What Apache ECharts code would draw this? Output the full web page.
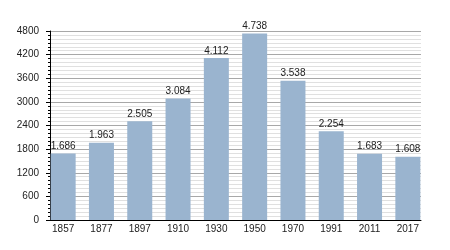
<!DOCTYPE html>
<html><head><meta charset="utf-8">
<script src="https://cdn.jsdelivr.net/npm/echarts@6/dist/echarts.min.js"></script>
<style>html,body{margin:0;padding:0;background:#fff}#c{width:450px;height:250px}</style>
</head><body><div id="c"></div>
<script>
const categories = ["1857","1877","1897","1910","1930","1950","1970","1991","2011","2017"];
const population = [1686,1963,2505,3084,4112,4738,3538,2254,1683,1608];
const yMin = 0, yMax = 4800, yStep = 600;

function fmt(v){ return String(v).replace(/\B(?=(\d{3})+(?!\d))/g, "."); }
const font = 'Liberation Sans, Arial, sans-serif';

const chart = echarts.init(document.getElementById('c'), null, {renderer:'canvas'});
chart.setOption({
  animation:false,
  grid:[
    {left:44,right:23,top:31,bottom:30},
    {left:50,right:29,top:31,bottom:30}
  ],
  xAxis:[
    {type:'category',data:categories,gridIndex:0,
      axisLine:{show:false},axisTick:{show:false},
      axisLabel:{color:'#222',fontFamily:font,fontSize:10,margin:4}},
    {type:'value',gridIndex:1,min:0,max:1,
      axisLine:{show:true,onZero:false,lineStyle:{color:'#000',width:1}},
      axisTick:{show:false},axisLabel:{show:false},splitLine:{show:false}}
  ],
  yAxis:[
    {type:'value',gridIndex:0,min:yMin,max:yMax,interval:yStep,show:false,splitLine:{show:false}},
    {type:'value',gridIndex:1,min:yMin,max:yMax,interval:yStep,
      axisLine:{show:true,lineStyle:{color:'#000'}},
      axisTick:{show:true,length:4,lineStyle:{color:'#000'}},
      minorTick:{show:true,splitNumber:6,length:2,lineStyle:{color:'#000'}},
      splitLine:{lineStyle:{color:'#a8a8a8',width:1}},
      minorSplitLine:{show:true,lineStyle:{color:'#e0e0e0',width:1}},
      axisLabel:{color:'#222',fontFamily:font,fontSize:10,margin:11,formatter:v=>String(v)}}
  ],
  series:[{type:'bar',data:population,barWidth:25,xAxisIndex:0,yAxisIndex:0,z:3,
    itemStyle:{color:'#9ab4cf'},
    label:{show:true,position:'top',distance:2,color:'#222',fontFamily:font,fontSize:10,
      formatter:p=>fmt(p.value)}
  }]
});
</script></body></html>
